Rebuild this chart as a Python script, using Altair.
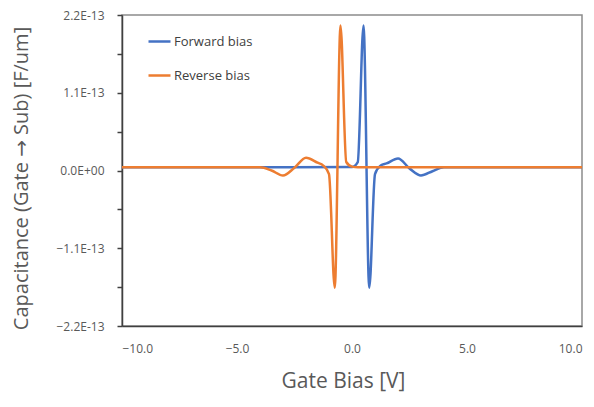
import altair as alt
import pandas as pd

# Forward bias (blue)
fwd_x = [-10.0, -4.0, 0.0, 0.25, 0.5, 0.75, 1.0, 1.25, 1.5, 2.0, 2.5, 3.0, 3.5, 4.0, 10.0]
fwd_y = [0.045e-13, 0.045e-13, 0.05e-13, 0.12e-13, 2.05e-13, -1.66e-13, -0.05e-13, 0.07e-13,
         0.10e-13, 0.17e-13, 0.03e-13, -0.07e-13, -0.01e-13, 0.045e-13, 0.045e-13]

# Reverse bias (orange)
rev_x = [-10.0, -4.0, -3.5, -3.0, -2.5, -2.0, -1.5, -1.25, -1.0, -0.75, -0.5, -0.25, 0.0, 0.25, 10.0]
rev_y = [0.045e-13, 0.045e-13, 0.0, -0.07e-13, 0.04e-13, 0.18e-13, 0.11e-13, 0.07e-13,
         -0.05e-13, -1.66e-13, 2.05e-13, 0.12e-13, 0.055e-13, 0.045e-13, 0.045e-13]

series_names = ["Forward bias", "Reverse bias"]
series_colors = ["#4472C4", "#ED7D31"]

x_ticks = [-10, -5, 0, 5, 10]
y_ticks = [-2.2e-13, -1.65e-13, -1.1e-13, -0.55e-13, 0.0, 0.55e-13, 1.1e-13, 1.65e-13, 2.2e-13]

df_f = pd.DataFrame({"x": fwd_x, "y": fwd_y, "s": series_names[0]})
df_r = pd.DataFrame({"x": rev_x, "y": rev_y, "s": series_names[1]})

FONT = "Open Sans"
TFONT = "Open Sans, DejaVu Sans"
GRAY = "#595959"

color = alt.Color(
    "s:N",
    scale=alt.Scale(domain=series_names, range=series_colors),
    legend=alt.Legend(
        title=None,
        orient="none",
        legendX=25,
        legendY=14,
        padding=0,
        symbolType="stroke",
        symbolSize=484,
        symbolStrokeWidth=2.5,
        rowPadding=14,
        labelOffset=2,
        labelFont=FONT,
        labelFontSize=13,
        labelColor="#404040",
    ),
)

xenc = alt.X(
    "x:Q",
    scale=alt.Scale(domain=[-10, 10], nice=False, zero=False),
    axis=alt.Axis(
        values=x_ticks,
        format=".1f",
        title="Gate Bias [V]",
        titleFont=FONT,
        titleFontSize=21,
        titleFontWeight="normal",
        titleColor=GRAY,
        titleX=221,
        titleY=55,
        titleBaseline="middle",
        titleAlign="center",
        labelFont=FONT,
        labelFontSize=12,
        labelColor=GRAY,
        labelPadding=17,
        tickSize=0,
        ticks=False,
        grid=False,
        domainColor="#404040",
        domainWidth=1.5,
    ),
)

yenc = alt.Y(
    "y:Q",
    scale=alt.Scale(domain=[-2.2e-13, 2.2e-13], nice=False, zero=False),
    axis=alt.Axis(
        values=y_ticks,
        labelExpr="abs(round(datum.value*1e13/0.55)) % 2 == 1 ? '' : (datum.value == 0 ? '0.0E+00' : format(datum.value*1e13, '.1f') + 'E-13')",
        title="Capacitance (Gate \u2192 Sub) [F/um]",
        titleFont=TFONT,
        titleFontSize=20,
        titleFontWeight="normal",
        titleColor=GRAY,
        titleX=-101,
        titleY=163,
        titleAngle=-90,
        titleAlign="center",
        titleBaseline="middle",
        labelFont=FONT,
        labelFontSize=12,
        labelColor=GRAY,
        labelPadding=13,
        tickSize=5,
        tickColor="#404040",
        tickWidth=1.5,
        grid=False,
        domainColor="#404040",
        domainWidth=1.5,
    ),
)

blue = alt.Chart(df_f).mark_line(strokeWidth=2.5, interpolate="monotone").encode(
    x=xenc, y=yenc, color=color
)
orange = alt.Chart(df_r).mark_line(strokeWidth=2.5, interpolate="monotone").encode(
    x=xenc, y=yenc, color=color
)

chart = (
    alt.layer(blue, orange)
    .properties(
        width=460,
        height=311,
        autosize=alt.AutoSizeParams(type="none"),
        padding={"left": 114, "top": 7, "right": 4, "bottom": 70},
        background="white",
    )
    .configure_view(stroke="#8c8c8c", strokeWidth=1.5)
)

chart.save("out.html", embed_options={"renderer": "svg", "actions": False})
